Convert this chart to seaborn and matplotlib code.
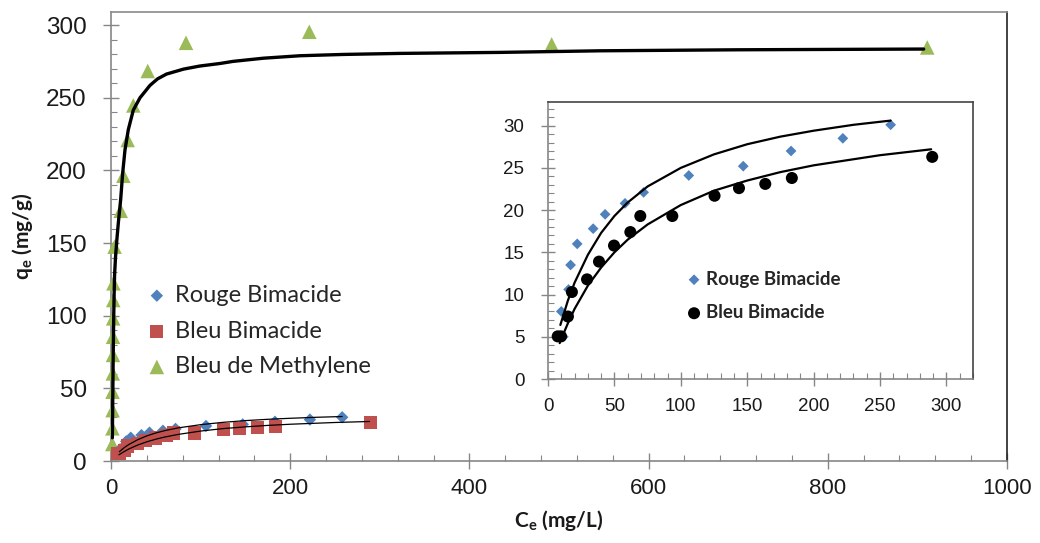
import numpy as np
import pandas as pd
import matplotlib
matplotlib.use("Agg")
import matplotlib.pyplot as plt
import seaborn as sns
from matplotlib.ticker import MultipleLocator

# ---------------- data ----------------
rouge_ce = [11.5, 10, 15.5, 17, 22, 34, 43, 58, 72, 106, 147, 183, 222, 258]
rouge_qe = [5.0, 8.0, 10.6, 13.5, 16.0, 17.8, 19.5, 20.8, 22.1, 24.1, 25.2, 27.0, 28.5, 30.1]

bleu_ce = [7.3, 9.8, 15, 18, 29.4, 38.4, 49.7, 62, 69.5, 93.6, 125.4, 143.8, 163.6, 183.6, 289.3]
bleu_qe = [5.05, 5.05, 7.4, 10.3, 11.8, 13.9, 15.8, 17.4, 19.3, 19.3, 21.7, 22.6, 23.1, 23.8, 26.3]

bm_ce = [1.5, 1.6, 1.8, 1.7, 2.0, 2.2, 2.3, 2.4, 2.5, 2.7, 4.0, 10.8, 13.8, 18.6, 24.9, 41, 83.7, 221.3, 491.8, 911]
bm_qe = [11.7, 22.5, 35.0, 47.7, 60.3, 73.0, 85.5, 98.2, 110.8, 122.3, 147.5, 172.2, 196.3, 220.9, 244.7, 268.4, 287.8, 295.4, 286.7, 284.6]

# fitted curves
fit_bm_ce = [1.5, 2.0, 2.5, 3.0, 3.5, 4.0, 5.0, 6.5, 8.2, 10.8, 13.0, 15.6, 19.3, 24.9, 32.4, 43.5,
             52, 62, 81, 99, 122, 136, 170, 211, 260, 322, 434, 546, 700, 907]
fit_bm_qe = [16, 45, 75, 98, 115, 128, 140, 152, 164, 180, 198, 214, 228, 241.5, 250, 258.5,
             263, 266.3, 269.7, 271.8, 273.6, 275.0, 277.2, 278.9, 279.8, 280.5, 281.2, 282.3, 283, 283.5]

fit_rouge_ce = [9.3, 15, 20, 30, 40, 50, 60, 75, 100, 125, 150, 175, 200, 230, 258]
fit_rouge_qe = [6.4, 9.3, 11.4, 14.7, 17.3, 19.3, 20.9, 22.8, 25.0, 26.6, 27.8, 28.7, 29.4, 30.1, 30.6]

fit_bleu_ce = [8.8, 12, 15, 20, 30, 40, 50, 60, 75, 100, 125, 150, 175, 200, 250, 288.5]
fit_bleu_qe = [4.25, 5.5, 6.6, 8.3, 11.05, 13.2, 15.0, 16.5, 18.3, 20.6, 22.3, 23.5, 24.5, 25.3, 26.5, 27.2]

labels = ["Rouge Bimacide", "Bleu Bimacide", "Bleu de Methylene"]
main_xticks = [0, 200, 400, 600, 800, 1000]
main_yticks = [0, 50, 100, 150, 200, 250, 300]
inset_xticks = [0, 50, 100, 150, 200, 250, 300]
inset_yticks = [0, 5, 10, 15, 20, 25, 30]

# ---------------- style ----------------
sns.set_theme(style="white")
plt.rcParams["font.family"] = ["Liberation Sans", "DejaVu Sans"]
plt.rcParams["mathtext.fontset"] = "custom"
plt.rcParams["mathtext.bf"] = "Lato:bold"
plt.rcParams["mathtext.rm"] = "Lato"

BLUE = "#4F81BD"
RED = "#C0504D"
GREEN = "#9BBB59"
AXC = "#868686"

fig = plt.figure(figsize=(10.4, 5.43), dpi=100)
W, H = 1040, 543
ax = fig.add_axes([111 / W, 1 - 461 / H, (1007 - 111) / W, (461 - 12) / H])
axi = fig.add_axes([548 / W, 1 - 379 / H, (973 - 548) / W, (379 - 102) / H])

# ---------------- main axes ----------------
sns.scatterplot(x=bm_ce, y=bm_qe, marker="^", s=110, color=GREEN, edgecolor="none",
                ax=ax, zorder=3, label=labels[2], clip_on=False)
sns.scatterplot(x=rouge_ce, y=rouge_qe, marker="D", s=40, color=BLUE, edgecolor="none",
                ax=ax, zorder=3, label=labels[0], clip_on=False)
sns.scatterplot(x=bleu_ce, y=bleu_qe, marker="s", s=90, color=RED, edgecolor="none",
                ax=ax, zorder=3, label=labels[1], clip_on=False)
sns.lineplot(x=fit_bm_ce, y=fit_bm_qe, color="black", lw=2.4, sort=False, estimator=None,
             ax=ax, zorder=4)
sns.lineplot(x=fit_rouge_ce, y=fit_rouge_qe, color="black", lw=0.9, sort=False, estimator=None,
             ax=ax, zorder=4)
sns.lineplot(x=fit_bleu_ce, y=fit_bleu_qe, color="black", lw=0.9, sort=False, estimator=None,
             ax=ax, zorder=4)

ax.set_xlim(0, 1000)
ax.set_ylim(0, 309)
ax.set_xticks(main_xticks)
ax.set_yticks(main_yticks)
ax.xaxis.set_minor_locator(MultipleLocator(40))
ax.yaxis.set_minor_locator(MultipleLocator(10))
ax.tick_params(axis="both", which="major", direction="inout", length=11, width=1,
               color=AXC, labelcolor="#1a1a1a")
ax.tick_params(axis="both", which="minor", direction="in", length=4, width=0.8, color=AXC)
ax.tick_params(axis="y", which="major", pad=12, left=True, labelsize=17.5)
ax.tick_params(axis="x", which="major", pad=7, bottom=True, labelsize=16)
ax.tick_params(axis="both", which="minor", left=True, bottom=True)
for s in ["left", "bottom"]:
    ax.spines[s].set_color(AXC)
    ax.spines[s].set_linewidth(1.2)
ax.spines["top"].set_color("#8a8a8a")
ax.spines["top"].set_linewidth(1.2)
ax.spines["right"].set_color("#222222")
ax.spines["right"].set_linewidth(1.2)

ax.set_xlabel(r"$\mathbf{C_e}$ (mg/L)", fontsize=15, fontweight="bold",
              family="Lato", labelpad=6, color="#1a1a1a")
ax.set_ylabel(r"$\mathbf{q_e}$ (mg/g)", fontsize=15, fontweight="bold",
              family="Lato", labelpad=8, color="#1a1a1a")

h, l = ax.get_legend_handles_labels()
hm = dict(zip(l, h))
leg = ax.legend([hm[labels[0]], hm[labels[1]], hm[labels[2]]], labels,
                loc="center left", bbox_to_anchor=(0.038, 0.2895), frameon=False,
                prop={"family": "Lato", "size": 17}, handlelength=1.0,
                handletextpad=0.25, labelspacing=0.62, borderpad=0, borderaxespad=0)
for t in leg.get_texts():
    t.set_color("#262626")

# ---------------- inset ----------------
sns.scatterplot(x=rouge_ce, y=rouge_qe, marker="D", s=30, color=BLUE, edgecolor="none",
                ax=axi, zorder=3, label=labels[0])
sns.scatterplot(x=bleu_ce, y=bleu_qe, marker="o", s=75, color="black", edgecolor="none",
                ax=axi, zorder=3, label=labels[1])
sns.lineplot(x=fit_rouge_ce, y=fit_rouge_qe, color="black", lw=1.6, sort=False, estimator=None,
             ax=axi, zorder=4)
sns.lineplot(x=fit_bleu_ce, y=fit_bleu_qe, color="black", lw=1.6, sort=False, estimator=None,
             ax=axi, zorder=4)

axi.set_xlim(0, 320)
axi.set_ylim(0, 32.8)
axi.set_xticks(inset_xticks)
axi.set_yticks(inset_yticks)
axi.xaxis.set_minor_locator(MultipleLocator(10))
axi.yaxis.set_minor_locator(MultipleLocator(1))
axi.tick_params(axis="both", which="major", direction="inout", length=10, width=1,
                color=AXC, labelsize=13.5, labelcolor="#1a1a1a", left=True, bottom=True)
axi.tick_params(axis="both", which="minor", direction="in", length=4, width=0.8,
                color=AXC, left=True, bottom=True)
axi.tick_params(axis="y", which="major", pad=12)
axi.tick_params(axis="x", which="major", pad=9)
for s in ["left", "bottom"]:
    axi.spines[s].set_color(AXC)
    axi.spines[s].set_linewidth(1.2)
for s in ["top", "right"]:
    axi.spines[s].set_color("#444444")
    axi.spines[s].set_linewidth(1.2)
axi.set_xlabel("")
axi.set_ylabel("")

h2, l2 = axi.get_legend_handles_labels()
leg2 = axi.legend(h2, l2, loc="center left", bbox_to_anchor=(0.326, 0.30), frameon=False,
                  prop={"family": "Lato", "size": 13.5, "weight": "bold"}, handlelength=0.8,
                  handletextpad=0.25, labelspacing=0.88, borderpad=0, borderaxespad=0)
for t in leg2.get_texts():
    t.set_color("#262626")

fig.savefig("out.png", dpi=100)
